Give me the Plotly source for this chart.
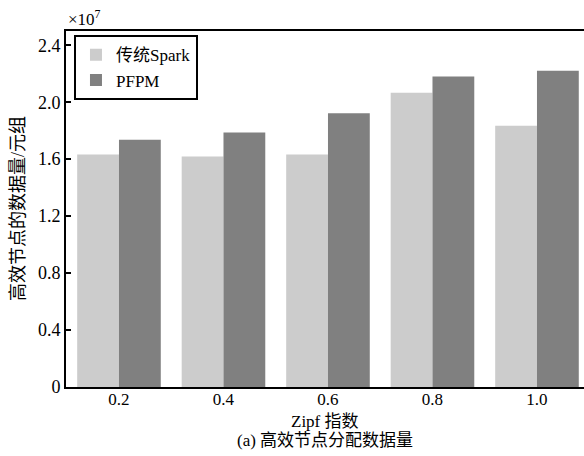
import plotly.graph_objects as go

categories = ["0.2", "0.4", "0.6", "0.8", "1.0"]
spark_values = [1.633e7, 1.618e7, 1.632e7, 2.067e7, 1.835e7]
pfpm_values = [1.736e7, 1.788e7, 1.923e7, 2.181e7, 2.221e7]
series_names = ["传统Spark", "PFPM"]
ytick_vals = [0, 0.4e7, 0.8e7, 1.2e7, 1.6e7, 2.0e7, 2.4e7]
ytick_text = ["0", "0.4", "0.8", "1.2", "1.6", "2.0", "2.4"]

FONT = "Liberation Serif, Times New Roman, Noto Sans CJK SC, serif"

fig = go.Figure()
fig.add_trace(go.Bar(x=list(range(len(categories))), y=spark_values, name=series_names[0],
                     marker=dict(color="#cccccc", line=dict(width=0))))
fig.add_trace(go.Bar(x=list(range(len(categories))), y=pfpm_values, name=series_names[1],
                     marker=dict(color="#808080", line=dict(width=0))))

fig.update_layout(
    width=584, height=456,
    margin=dict(l=66, r=0, t=31, b=69),
    paper_bgcolor="white", plot_bgcolor="white",
    barmode="group", bargap=0.2, bargroupgap=0,
    font=dict(family=FONT, size=18, color="black"),
    showlegend=True,
    legend=dict(x=0.0154, y=0.988, xanchor="left", yanchor="top",
                bgcolor="white", bordercolor="black", borderwidth=2,
                font=dict(family=FONT, size=17), tracegroupgap=0,
                itemwidth=30),
    xaxis=dict(range=[-0.507, 4.45], tickmode="array",
               tickvals=list(range(len(categories))), ticktext=categories,
               showline=True, linecolor="black", linewidth=2, mirror=True,
               ticks="", showgrid=False, zeroline=False, ticklabelstandoff=-4,
               tickfont=dict(family=FONT, size=17)),
    yaxis=dict(range=[0, 2.5e7], tickmode="array", tickvals=ytick_vals, ticktext=ytick_text,
               showline=True, linecolor="black", linewidth=2,
               ticks="inside", ticklen=5, tickwidth=2, tickcolor="black",
               showgrid=False, zeroline=False,
               tickfont=dict(family=FONT, size=18)),
)

fig.add_annotation(text="×10<sup>7</sup>", xref="paper", yref="paper", x=0, y=1,
                   xanchor="left", yanchor="bottom", showarrow=False, yshift=0,
                   font=dict(family=FONT, size=17))
fig.add_annotation(text="Zipf 指数", xref="paper", yref="paper", x=0.5, y=0,
                   xanchor="center", yanchor="middle", showarrow=False, yshift=-34,
                   font=dict(family=FONT, size=17))
fig.add_annotation(text="(a) 高效节点分配数据量", xref="paper", yref="paper", x=0.5, y=0,
                   xanchor="center", yanchor="middle", showarrow=False, yshift=-53,
                   font=dict(family=FONT, size=17))
fig.add_annotation(text="高效节点的数据量/元组", xref="paper", yref="paper", x=0, y=0.5,
                   xanchor="center", yanchor="middle", showarrow=False, xshift=-48,
                   textangle=-90, font=dict(family=FONT, size=18))

fig.write_html("out.html")
